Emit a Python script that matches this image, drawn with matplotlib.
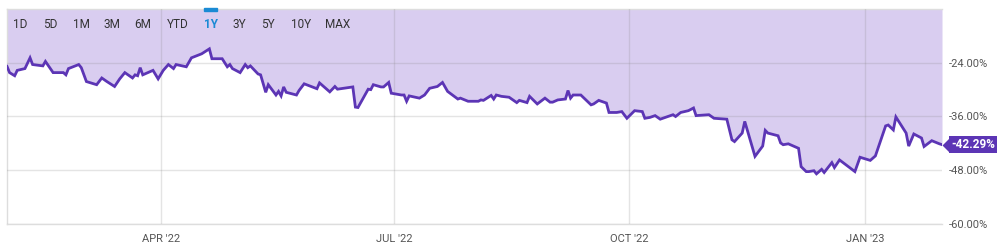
import numpy as np
import pandas as pd
import matplotlib
matplotlib.use('Agg')
from matplotlib import pyplot as plt
from matplotlib.patches import Rectangle
from matplotlib.transforms import blended_transform_factory

# data (total return %)
dates = ['2022-01-31', '2022-02-01', '2022-02-03', '2022-02-04', '2022-02-07', '2022-02-09',
         '2022-02-10', '2022-02-14', '2022-02-15', '2022-02-18', '2022-02-22', '2022-02-23',
         '2022-02-24', '2022-02-28', '2022-03-01', '2022-03-03', '2022-03-07', '2022-03-09',
         '2022-03-11', '2022-03-14', '2022-03-16', '2022-03-18', '2022-03-21', '2022-03-22',
         '2022-03-23', '2022-03-24', '2022-03-25', '2022-03-29', '2022-03-31', '2022-04-02',
         '2022-04-04', '2022-04-06', '2022-04-07', '2022-04-11', '2022-04-13', '2022-04-17',
         '2022-04-20', '2022-04-21', '2022-04-25', '2022-04-27', '2022-04-28', '2022-04-29',
         '2022-05-02', '2022-05-04', '2022-05-05', '2022-05-06', '2022-05-09', '2022-05-10',
         '2022-05-12', '2022-05-13', '2022-05-16', '2022-05-17', '2022-05-18', '2022-05-19',
         '2022-05-20', '2022-05-24', '2022-05-25', '2022-05-27', '2022-06-01', '2022-06-02',
         '2022-06-06', '2022-06-08', '2022-06-09', '2022-06-15', '2022-06-16', '2022-06-17',
         '2022-06-21', '2022-06-22', '2022-06-23', '2022-06-26', '2022-06-27', '2022-06-29',
         '2022-06-30', '2022-07-04', '2022-07-05', '2022-07-06', '2022-07-07', '2022-07-11',
         '2022-07-13', '2022-07-15', '2022-07-18', '2022-07-20', '2022-07-22', '2022-07-26',
         '2022-07-27', '2022-07-30', '2022-08-03', '2022-08-04', '2022-08-05', '2022-08-08',
         '2022-08-09', '2022-08-10', '2022-08-12', '2022-08-15', '2022-08-18', '2022-08-19',
         '2022-08-22', '2022-08-23', '2022-08-26', '2022-08-29', '2022-08-31', '2022-09-01',
         '2022-09-03', '2022-09-06', '2022-09-07', '2022-09-08', '2022-09-09', '2022-09-12',
         '2022-09-16', '2022-09-17', '2022-09-19', '2022-09-22', '2022-09-23', '2022-09-26',
         '2022-09-28', '2022-09-30', '2022-10-03', '2022-10-06', '2022-10-07', '2022-10-09',
         '2022-10-11', '2022-10-13', '2022-10-18', '2022-10-19', '2022-10-21', '2022-10-24',
         '2022-10-26', '2022-10-27', '2022-11-01', '2022-11-03', '2022-11-08', '2022-11-10',
         '2022-11-11', '2022-11-14', '2022-11-15', '2022-11-19', '2022-11-22', '2022-11-23',
         '2022-11-24', '2022-11-28', '2022-11-29', '2022-11-30', '2022-12-02', '2022-12-06',
         '2022-12-07', '2022-12-09', '2022-12-10', '2022-12-12', '2022-12-13', '2022-12-15',
         '2022-12-16', '2022-12-19', '2022-12-20', '2022-12-22', '2022-12-28', '2022-12-30',
         '2023-01-03', '2023-01-05', '2023-01-09', '2023-01-10', '2023-01-12', '2023-01-13',
         '2023-01-17', '2023-01-18', '2023-01-20', '2023-01-23', '2023-01-24', '2023-01-27',
         '2023-01-30', '2023-01-31']
values = [-24.8, -26.2, -26.9, -25.7, -25.3, -22.9,
          -24.4, -24.7, -23.7, -26.2, -26.2, -26.7,
          -25.3, -24.4, -25.1, -28.2, -28.9, -27.4,
          -28.2, -29.3, -27.6, -26.2, -27.4, -26.7,
          -26.9, -25.1, -26.7, -25.7, -27.6, -25.7,
          -24.4, -25.3, -24.4, -24.9, -22.9, -22.0,
          -20.9, -23.1, -23.1, -24.9, -24.4, -25.3,
          -26.2, -24.4, -25.1, -24.7, -26.5, -26.7,
          -30.6, -28.9, -31.2, -30.4, -31.4, -29.4,
          -30.6, -31.2, -30.2, -28.7, -29.8, -28.5,
          -30.5, -29.3, -29.9, -29.4, -33.9, -34.0,
          -29.9, -30.0, -28.9, -29.4, -29.4, -28.4,
          -30.8, -31.2, -31.2, -32.6, -31.4, -31.9,
          -31.2, -29.7, -29.3, -28.4, -30.4, -32.1,
          -31.9, -32.6, -32.6, -32.3, -32.4, -31.3,
          -32.1, -31.2, -31.5, -31.7, -32.9, -32.4,
          -32.9, -31.5, -33.2, -31.9, -32.8, -32.8,
          -32.3, -32.1, -30.2, -31.9, -31.2, -31.2,
          -33.4, -33.2, -32.4, -33.0, -35.1, -35.1,
          -34.9, -36.4, -34.7, -34.9, -36.4, -36.2,
          -35.8, -36.6, -35.6, -36.0, -35.1, -34.7,
          -34.1, -35.8, -35.6, -36.4, -36.6, -41.2,
          -41.6, -39.7, -37.1, -44.9, -42.6, -39.1,
          -39.7, -40.3, -41.9, -42.3, -42.1, -43.1,
          -47.2, -48.3, -48.3, -48.1, -48.8, -47.8,
          -48.5, -46.3, -47.4, -45.7, -48.3, -45.1,
          -45.8, -44.8, -38.1, -37.9, -39.0, -36.1,
          -39.7, -42.6, -39.9, -40.8, -42.7, -41.4,
          -42.1, -42.29]

y_ticks = [-60, -48, -36, -24]
x_ticks = ['2022-04-01', '2022-07-01', '2022-10-01', '2023-01-01']
x_labels = ["APR '22", "JUL '22", "OCT '22", "JAN '23"]
ranges = ['1D', '5D', '1M', '3M', '6M', 'YTD', '1Y', '3Y', '5Y', '10Y', 'MAX']
range_x = [20, 50, 81, 112, 143, 178, 211, 239, 268, 301, 338]

plt.rcParams['font.family'] = ['Roboto', 'DejaVu Sans']

W, H = 1003, 248
fig = plt.figure(figsize=(W / 100, H / 100), dpi=100)
ax = fig.add_axes([7 / W, (H - 224) / H, 935 / W, 215 / H])

d = pd.to_datetime(dates)
line_c = '#5c35b5'
fill_c = '#d9cdf0'
ymin, ymax = -60, -12

ax.fill_between(d, values, ymax, color=fill_c, lw=0, zorder=1)
ax.plot(d, values, color=line_c, lw=2, zorder=3, solid_joinstyle='miter')

ax.set_xlim(pd.Timestamp('2022-01-31'), pd.Timestamp('2023-01-31'))
ax.set_ylim(ymin, ymax)

ax.set_yticks(y_ticks)
ax.yaxis.tick_right()
ax.set_yticklabels(['%.2f%%' % v for v in y_ticks])
ax.set_xticks(pd.to_datetime(x_ticks))
ax.set_xticklabels(x_labels)
ax.tick_params(length=0, labelsize=8, labelcolor='#555555')
ax.tick_params(axis='y', pad=5)
ax.tick_params(axis='x', pad=7)

ax.grid(True, color='#888888', alpha=0.22, lw=1, zorder=2)
ax.set_axisbelow(False)
ax.spines['right'].set_visible(False)
for s in ['left', 'bottom', 'top']:
    ax.spines[s].set_color('#dddddd')
    ax.spines[s].set_linewidth(1)

# last value tag
tr = blended_transform_factory(ax.transAxes, ax.transData)
ax.plot([1.0], [values[-1]], transform=tr, marker=[(0, 0), (1, 1), (1, -1)], ms=10,
        color=line_c, mec='none', clip_on=False, zorder=5)
ax.annotate('%.2f%%' % values[-1], xy=(1.0, values[-1]), xycoords=tr,
            xytext=(9, 0), textcoords='offset pixels', ha='left', va='center',
            color='white', fontsize=8.5, fontweight='bold', zorder=6, annotation_clip=False,
            bbox=dict(boxstyle='square,pad=0.18', fc=line_c, ec='none'))

# range selector
for lbl, xp in zip(ranges, range_x):
    sel = lbl == '1Y'
    fig.text(xp / W, 1 - 25 / H, lbl, ha='center', va='center', fontsize=8.5,
             color='#1a8ad4' if sel else '#333333', fontweight='bold' if sel else 'normal')
fig.patches.append(Rectangle((204 / W, 1 - 11 / H), 13 / W, 3 / H, transform=fig.transFigure,
                             color='#1a8ad4', zorder=5))

fig.savefig('out.png', dpi=100)
